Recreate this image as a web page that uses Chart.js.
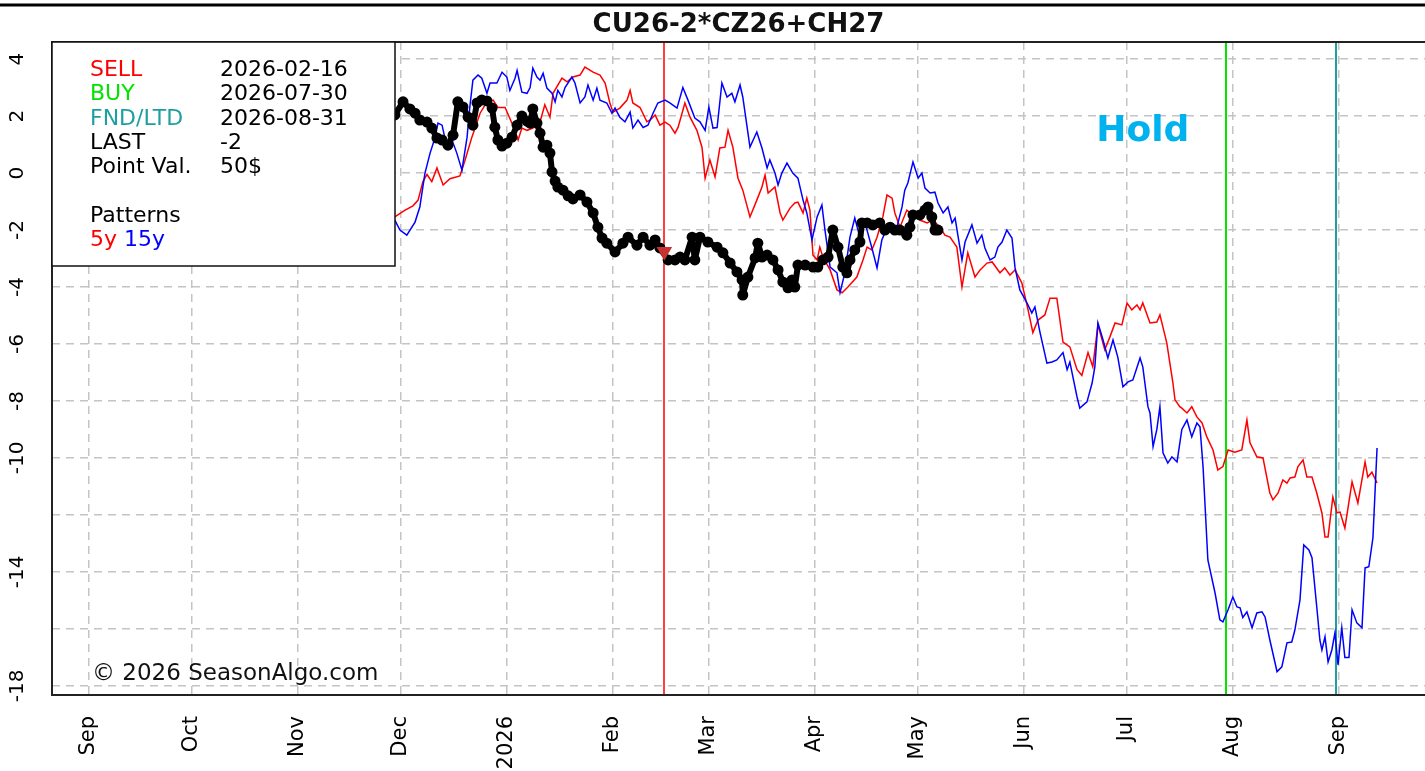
<!DOCTYPE html>
<html>
<head>
<meta charset="utf-8">
<script src="https://cdn.jsdelivr.net/npm/chart.js@4.4.1/dist/chart.umd.min.js"></script>
<style>
  html, body { margin: 0; padding: 0; background: #fff; overflow: hidden; }
  #wrap { width: 1425px; height: 771px; }
</style>
</head>
<body>
<div id="wrap"><canvas id="seasonChart" width="1425" height="771"></canvas></div>
<script>
// days counted from 2025-09-01
const title = 'CU26-2*CZ26+CH27';

const monthTickDates = ['2025-09-01', '2025-10-01', '2025-11-01', '2025-12-01', '2026-01-01', '2026-02-01',
  '2026-03-01', '2026-04-01', '2026-05-01', '2026-06-01', '2026-07-01', '2026-08-01', '2026-09-01'];
const monthTickLabels = ['Sep', 'Oct', 'Nov', 'Dec', '2026', 'Feb', 'Mar', 'Apr', 'May', 'Jun', 'Jul', 'Aug', 'Sep'];

const yGridVals = [4, 2, 0, -2, -4, -6, -8, -10, -12, -14, -16, -18];
const yLabelVals = [4, 2, 0, -2, -4, -6, -8, -10, -14, -18];

const signalNames = ['SELL', 'BUY', 'FND/LTD'];
const signalDates = ['2026-02-16', '2026-07-30', '2026-08-31'];
const signalColors = ['#ff0000', '#00e400', '#1f9f9f'];
const lastValue = -2;
const pointValue = '50$';

// 5y pattern (red)
const redDays = [89.3, 92.3, 94.6, 96.1, 97.5, 98.7, 100.1, 101.6, 103.4, 105.4,
  108.3, 109.8, 111.8, 114.2, 116.2, 118.0, 119.4, 121.5, 123.5, 125.3,
  126.4, 127.9, 129.6, 131.7, 133.1, 134.6, 135.5, 138.1, 139.6, 141.3,
  143.4, 144.8, 147.2, 149.2, 150.7, 152.1, 153.0, 155.0, 157.1, 158.0,
  158.8, 160.9, 162.9, 163.8, 165.3, 166.7, 168.2, 169.6, 171.1, 172.0,
  174.0, 175.5, 177.5, 179.0, 179.9, 181.3, 182.8, 184.2, 185.7, 186.6,
  188.0, 189.5, 190.9, 193.0, 195.0, 196.5, 197.4, 198.3, 200.3, 201.8,
  202.6, 204.7, 206.1, 207.0, 208.5, 209.6, 210.5, 211.4, 212.6, 213.4,
  214.3, 216.4, 218.4, 219.9, 221.6, 224.2, 226.0, 227.2, 228.6, 230.1,
  231.8, 233.0, 234.5, 235.3, 236.8, 238.8, 240.6, 242.6, 244.7, 246.4,
  248.5, 249.9, 251.4, 253.4, 254.9, 256.6, 258.7, 260.2, 262.2, 263.7,
  266.0, 267.4, 268.9, 270.4, 272.4, 274.2, 275.6, 277.1, 279.1, 280.6,
  282.6, 284.4, 286.4, 288.5, 289.9, 291.7, 293.1, 294.6, 296.6, 298.1,
  299.6, 301.6, 303.1, 304.5, 306.0, 306.9, 307.7, 309.8, 311.8, 312.7,
  314.7, 316.5, 317.1, 318.5, 319.1, 320.6, 322.0, 323.5, 325.0, 326.4,
  328.2, 329.6, 331.1, 332.6, 334.6, 336.6, 338.1, 339.0, 341.0, 342.8,
  344.8, 345.7, 347.2, 348.6, 349.8, 350.7, 352.1, 353.0, 354.5, 355.6,
  357.1, 358.5, 360.0, 360.9, 361.8, 363.2, 364.4, 365.3, 366.7, 368.8,
  370.5, 372.6, 373.4, 374.6, 376.1];
const redVals = [-1.54, -1.3, -1.15, -0.95, -0.3, -0.05, -0.3, 0.18, -0.42, -0.2,
  -0.1, 0.45, 1.26, 2.1, 2.5, 2.56, 2.3, 2.3, 1.75, 1.16,
  1.58, 1.5, 1.58, 1.8, 2.4, 1.96, 2.8, 3.33, 3.2, 3.37,
  3.44, 3.72, 3.54, 3.44, 3.16, 2.46, 2.14, 2.28, 2.56, 2.9,
  2.46, 2.3, 1.8, 1.86, 2.04, 1.68, 1.79, 1.68, 1.4, 1.6,
  2.46, 1.96, 1.5, 0.9, -0.18, 0.46, -0.14, 0.88, 0.91, 1.5,
  0.91, -0.18, -0.6, -1.54, -0.95, -0.49, -0.07, -0.7, -0.49, -1.4,
  -1.65, -1.23, -1.05, -1.02, -1.4, -0.88, -1.3, -2.88, -3.05, -2.6,
  -2.95, -3.4, -4.1, -4.2, -4.0, -3.65, -3.05, -2.6, -2.7, -2.25,
  -1.54, -0.77, -0.88, -1.4, -1.9, -1.3, -1.47, -1.65, -1.75, -1.65,
  -1.9, -2.18, -2.25, -2.6, -4.0, -2.8, -3.65, -3.4, -3.16, -3.12,
  -3.5, -3.33, -3.58, -3.4, -3.86, -4.8, -5.6, -5.16, -4.98, -4.39,
  -4.39, -5.93, -6.1, -6.9, -7.1, -6.3, -6.8, -5.33, -6.2, -5.75,
  -5.26, -5.33, -4.56, -4.8, -4.63, -4.8, -4.56, -5.26, -5.23, -4.98,
  -5.96, -7.37, -7.96, -8.2, -8.25, -8.42, -8.2, -8.56, -8.77, -9.26,
  -9.72, -10.42, -10.3, -9.72, -9.8, -9.72, -8.67, -9.47, -9.96, -10.0,
  -11.23, -11.47, -11.23, -10.77, -10.88, -10.7, -10.67, -10.3, -10.07, -10.67,
  -10.67, -11.23, -11.93, -12.77, -12.77, -11.37, -11.93, -11.9, -12.46, -10.84,
  -11.58, -10.14, -10.67, -10.5, -10.88];

// 15y pattern (blue)
const blueDays = [89.3, 90.8, 92.8, 95.2, 96.6, 98.1, 99.6, 101.0, 101.9, 103.1,
  104.5, 106.0, 107.4, 108.9, 110.4, 111.2, 112.1, 113.6, 114.7, 116.2,
  117.1, 119.1, 120.6, 122.0, 122.9, 124.4, 125.0, 126.4, 127.9, 128.8,
  129.6, 130.8, 131.7, 132.6, 133.7, 135.2, 136.1, 136.9, 138.1, 139.0,
  141.0, 141.9, 143.4, 144.8, 145.7, 147.2, 148.3, 149.2, 151.2, 152.7,
  153.6, 155.0, 156.5, 158.0, 158.8, 160.3, 161.8, 163.2, 164.7, 166.1,
  168.2, 169.6, 171.7, 173.4, 174.9, 176.9, 178.4, 179.9, 181.0, 182.2,
  183.4, 184.8, 186.3, 187.7, 188.6, 190.1, 190.9, 193.0, 195.0, 196.5,
  198.0, 198.8, 200.3, 201.2, 202.3, 203.8, 205.5, 207.0, 208.5, 209.6,
  211.1, 212.6, 214.0, 214.9, 216.4, 218.4, 219.3, 220.7, 222.2, 223.6,
  225.1, 226.6, 228.6, 230.1, 231.5, 232.4, 233.9, 235.9, 237.4, 238.2,
  239.1, 240.6, 242.1, 243.2, 244.1, 245.6, 247.0, 247.9, 249.4, 250.8,
  252.0, 252.9, 253.7, 254.9, 255.8, 257.8, 259.3, 260.7, 261.6, 263.1,
  264.5, 265.4, 266.6, 268.0, 269.5, 270.4, 271.8, 273.9, 275.3, 276.2,
  277.7, 279.7, 281.2, 282.6, 284.4, 285.6, 286.4, 288.5, 289.3, 291.4,
  292.9, 293.7, 294.6, 296.1, 297.5, 299.0, 300.4, 301.9, 303.4, 304.8,
  306.9, 307.7, 309.2, 309.8, 310.7, 311.8, 312.7, 313.6, 315.0, 316.2,
  317.7, 319.1, 320.6, 322.0, 323.5, 324.4, 325.3, 326.7, 328.8, 330.2,
  331.1, 332.6, 334.0, 335.2, 336.1, 336.9, 338.1, 339.6, 341.0, 342.5,
  343.4, 344.8, 346.9, 348.3, 349.8, 351.2, 352.1, 353.6, 354.7, 356.2,
  357.1, 358.5, 359.4, 360.0, 360.9, 361.8, 362.9, 363.8, 364.7, 365.8,
  366.7, 367.9, 368.8, 370.2, 371.7, 372.6, 373.7, 374.9, 376.1];
const blueVals = [-1.65, -2.0, -2.18, -1.72, -1.19, 0, 0.7, 1.23, 1.75, 1.68,
  0.91, 1.16, 0.7, 0.1, 1.26, 2.32, 3.26, 3.44, 3.33, 2.8,
  3.16, 3.16, 3.54, 3.37, 2.9, 3.33, 3.6, 2.84, 2.8, 3.0,
  3.68, 3.37, 3.26, 3.5, 2.98, 2.8, 2.5, 2.9, 2.67, 3.0,
  3.37, 3.16, 2.46, 2.67, 3.09, 2.56, 2.98, 2.56, 2.46, 2.1,
  2.28, 1.96, 1.8, 2.14, 1.58, 1.86, 1.6, 1.68, 2.1, 2.46,
  2.56, 2.46, 2.28, 3.0, 2.56, 1.93, 1.8, 1.5, 2.32, 1.58,
  1.6, 3.16, 2.67, 2.8, 2.5, 3.09, 2.67, 0.91, 1.44, 0.88,
  0.18, 0.46, 0, -0.42, 0, 0.35, 0, -0.18, -0.95, -1.4,
  -2.35, -1.54, -1.12, -2.0, -3.3, -3.5, -4.2, -3.5, -2.25, -1.58,
  -2.25, -1.75, -2.63, -3.33, -2.35, -2.1, -2.0, -1.9, -1.19, -0.6,
  -0.35, 0.39, -0.18, 0, -0.53, -0.7, -0.67, -1.05, -1.4, -1.19,
  -1.75, -1.58, -2.18, -3.05, -2.42, -1.82, -2.46, -2.18, -2.63, -3.05,
  -2.95, -2.6, -2.42, -2.0, -2.28, -3.33, -4.1, -4.56, -4.91, -4.7,
  -5.6, -6.67, -6.63, -6.56, -6.3, -6.9, -6.63, -7.86, -8.25, -8.03,
  -7.37, -6.8, -5.26, -5.86, -6.49, -5.86, -6.46, -7.5, -7.33, -7.26,
  -6.49, -6.8, -8.2, -8.42, -9.6, -9.0, -8.2, -9.82, -10.18, -9.96,
  -10.14, -9.0, -8.67, -9.26, -8.77, -8.91, -10.32, -13.58, -14.74, -15.68,
  -15.75, -15.33, -14.88, -15.23, -15.26, -15.6, -15.4, -15.96, -15.44, -15.4,
  -15.58, -16.39, -17.5, -17.33, -16.49, -16.46, -16.04, -14.98, -13.05, -13.23,
  -13.5, -15.23, -16.39, -16.74, -16.28, -17.16, -16.74, -16.14, -17.26, -15.96,
  -17.0, -17.0, -15.33, -15.79, -15.96, -13.86, -13.82, -12.8, -9.65];

// current spread (black)
const lastDays = [89.3, 91.7, 93.7, 95.2, 96.6, 98.7, 100.1, 101.6, 103.1, 104.8,
  106.3, 107.7, 109.2, 110.7, 112.1, 113.3, 114.7, 116.2, 117.7, 118.5,
  119.4, 120.6, 122.0, 123.5, 125.0, 126.4, 127.9, 128.8, 129.6, 130.8,
  131.7, 132.6, 133.7, 134.6, 135.2, 136.1, 136.9, 138.4, 139.9, 141.3,
  143.4, 145.4, 147.2, 148.6, 149.8, 151.2, 153.6, 155.9, 157.4, 160.0,
  161.8, 163.8, 165.3, 166.7, 169.1, 171.1, 172.6, 174.0, 176.1, 176.9,
  178.4, 180.7, 183.4, 185.1, 187.2, 189.2, 190.7, 190.9, 192.4, 194.5,
  195.3, 196.5, 198.0, 199.7, 201.2, 202.6, 204.1, 205.3, 206.1, 207.0,
  209.1, 211.4, 212.8, 214.3, 215.8, 217.2, 218.7, 220.1, 221.3, 222.2,
  223.6, 225.1, 225.7, 227.2, 228.9, 230.9, 232.4, 233.9, 235.3, 236.8,
  238.8, 239.7, 240.6, 242.6, 244.1, 245.0, 246.1, 247.0, 247.9];
const lastVals = [2.04, 2.5, 2.25, 2.1, 1.86, 1.79, 1.58, 1.23, 1.16, 0.98,
  1.33, 2.5, 2.32, 1.96, 1.68, 2.46, 2.56, 2.53, 2.28, 1.61,
  1.16, 0.95, 1.05, 1.26, 1.68, 2.0, 1.82, 1.75, 2.25, 1.75,
  1.4, 0.91, 0.98, 0.7, 0.04, -0.28, -0.49, -0.6, -0.8, -0.91,
  -0.77, -1.02, -1.4, -1.9, -2.28, -2.46, -2.77, -2.46, -2.25, -2.53,
  -2.25, -2.53, -2.35, -2.63, -3.05, -3.05, -2.95, -3.05, -2.25, -3.05,
  -2.25, -2.42, -2.6, -2.8, -3.16, -3.47, -3.75, -4.28, -3.65, -2.98,
  -2.46, -2.95, -2.88, -3.05, -3.4, -3.82, -4.03, -3.75, -4.0, -3.23,
  -3.23, -3.3, -3.3, -3.05, -2.95, -2.0, -2.6, -3.3, -3.5, -3.05,
  -2.7, -2.42, -1.75, -1.75, -1.82, -1.75, -2.0, -1.9, -2.0, -2.0,
  -2.18, -1.9, -1.47, -1.47, -1.3, -1.19, -1.54, -2.0, -2.0];
const sellMarkVal = -2.75;

const FONT = 'DejaVu Sans';
const baseDay = Date.UTC(2025, 8, 1);
function dayOf(s) {
  const [y, m, d] = s.split('-').map(Number);
  return (Date.UTC(y, m - 1, d) - baseDay) / 86400000;
}
function pts(xs, ys) {
  const n = Math.min(xs.length, ys.length);
  const out = [];
  for (let i = 0; i < n; i++) out.push({ x: xs[i], y: ys[i] });
  return out;
}
const monthTickDays = monthTickDates.map(dayOf);

const decor = {
  id: 'decor',
  beforeDatasetsDraw(chart) {
    const { ctx, chartArea: a, scales: { x } } = chart;
    signalDates.forEach((d, i) => {
      const px = Math.round(x.getPixelForValue(dayOf(d)));
      ctx.save();
      ctx.strokeStyle = signalColors[i];
      ctx.lineWidth = i === 0 ? 1.5 : 2;
      ctx.beginPath();
      ctx.moveTo(px, a.top);
      ctx.lineTo(px, a.bottom);
      ctx.stroke();
      ctx.restore();
    });
  },
  afterDraw(chart) {
    const { ctx, chartArea: a, scales: { x, y } } = chart;
    ctx.save();

    // plot frame
    ctx.strokeStyle = '#222';
    ctx.lineWidth = 2;
    ctx.beginPath();
    ctx.moveTo(chart.width, a.top);
    ctx.lineTo(a.left, a.top);
    ctx.lineTo(a.left, a.bottom);
    ctx.lineTo(chart.width, a.bottom);
    ctx.stroke();

    // rule at the very top
    ctx.strokeStyle = '#000';
    ctx.lineWidth = 3;
    ctx.beginPath();
    ctx.moveTo(0, 5);
    ctx.lineTo(chart.width, 5);
    ctx.stroke();

    // title
    ctx.fillStyle = '#111';
    ctx.font = 'bold 26px "' + FONT + '"';
    ctx.textAlign = 'center';
    ctx.textBaseline = 'alphabetic';
    ctx.fillText(title, (a.left + a.right) / 2, 32);

    // rotated y labels
    ctx.font = '20px "' + FONT + '"';
    ctx.fillStyle = '#000';
    yLabelVals.forEach(v => {
      const py = y.getPixelForValue(v);
      ctx.save();
      ctx.translate(18, py);
      ctx.rotate(-Math.PI / 2);
      ctx.textAlign = 'center';
      ctx.textBaseline = 'middle';
      ctx.fillText(String(v), 0, 0);
      ctx.restore();
    });

    // legend box
    const bx = a.left, by = a.top, bw = 343, bh = 224;
    ctx.fillStyle = '#fff';
    ctx.fillRect(bx, by, bw, bh);
    ctx.strokeStyle = '#111';
    ctx.lineWidth = 1.5;
    ctx.strokeRect(bx, by, bw, bh);
    ctx.font = '22px "' + FONT + '"';
    ctx.textAlign = 'left';
    ctx.textBaseline = 'alphabetic';
    const c1 = bx + 38, c2 = bx + 168, lh = 24.3, b0 = by + 34;
    const rows = [
      [signalNames[0], signalColors[0], signalDates[0]],
      [signalNames[1], signalColors[1], signalDates[1]],
      [signalNames[2], signalColors[2], signalDates[2]],
      ['LAST', '#000', String(lastValue)],
      ['Point Val.', '#000', pointValue]
    ];
    rows.forEach((r, i) => {
      ctx.fillStyle = r[1];
      ctx.fillText(r[0], c1, b0 + i * lh);
      ctx.fillStyle = '#000';
      ctx.fillText(r[2], c2, b0 + i * lh);
    });
    ctx.fillStyle = '#000';
    ctx.fillText('Patterns', c1, b0 + 6 * lh);
    ctx.fillStyle = '#ff0000';
    ctx.fillText('5y', c1, b0 + 7 * lh);
    const w5 = ctx.measureText('5y ').width;
    ctx.fillStyle = '#0000ff';
    ctx.fillText('15y', c1 + w5, b0 + 7 * lh);

    // Hold label
    ctx.font = 'bold 36px "' + FONT + '"';
    ctx.fillStyle = '#00b2ee';
    ctx.textAlign = 'center';
    ctx.textBaseline = 'middle';
    ctx.fillText('Hold', x.getPixelForValue(307.7), y.getPixelForValue(1.44));

    // copyright
    ctx.font = '23px "' + FONT + '"';
    ctx.fillStyle = '#111';
    ctx.textAlign = 'left';
    ctx.textBaseline = 'alphabetic';
    ctx.fillText('\u00a9 2026 SeasonAlgo.com', a.left + 40, 680);

    ctx.restore();
  }
};

new Chart(document.getElementById('seasonChart').getContext('2d'), {
  type: 'line',
  data: {
    datasets: [
      {
        label: 'SELL',
        data: [{ x: dayOf(signalDates[0]), y: sellMarkVal }],
        showLine: false,
        pointStyle: 'triangle',
        rotation: 180,
        pointRadius: 9,
        pointBackgroundColor: '#c83232',
        pointBorderColor: '#c83232',
        pointBorderWidth: 0
      },
      {
        label: 'LAST',
        data: pts(lastDays, lastVals),
        borderColor: '#000',
        borderWidth: 6,
        borderJoinStyle: 'round',
        borderCapStyle: 'round',
        pointRadius: 5.5,
        pointBackgroundColor: '#000',
        pointBorderColor: '#000',
        pointBorderWidth: 0,
        tension: 0
      },
      {
        label: '15y',
        data: pts(blueDays, blueVals),
        borderColor: '#0000ff',
        borderWidth: 1.5,
        pointRadius: 0,
        tension: 0
      },
      {
        label: '5y',
        data: pts(redDays, redVals),
        borderColor: '#ff0000',
        borderWidth: 1.5,
        pointRadius: 0,
        tension: 0
      }
    ]
  },
  options: {
    responsive: false,
    devicePixelRatio: 1,
    animation: false,
    layout: { autoPadding: false, padding: { top: 42, right: 0, bottom: 0, left: 0 } },
    plugins: {
      legend: { display: false },
      tooltip: { enabled: false },
      title: { display: false }
    },
    scales: {
      x: {
        type: 'linear',
        min: -10.8,
        max: 390.1,
        afterBuildTicks: s => { s.ticks = monthTickDays.map(v => ({ value: v })); },
        afterFit: s => { s.height = 76; s.paddingLeft = 0; s.paddingRight = 0; },
        ticks: {
          autoSkip: false,
          minRotation: 90,
          maxRotation: 90,
          padding: 21,
          color: '#000',
          font: { family: FONT, size: 21 },
          callback: (v, i) => monthTickLabels[i]
        },
        grid: { color: '#c4c4c4', lineWidth: 1.5, drawTicks: false },
        border: { display: false, dash: [8, 6] }
      },
      y: {
        type: 'linear',
        min: -18.32,
        max: 4.6,
        afterBuildTicks: s => { s.ticks = yGridVals.map(v => ({ value: v })); },
        afterFit: s => { s.width = 52; s.paddingTop = 0; s.paddingBottom = 0; },
        ticks: { display: false },
        grid: { color: '#c4c4c4', lineWidth: 1.5, drawTicks: false },
        border: { display: false, dash: [8, 6] }
      }
    }
  },
  plugins: [decor]
});
</script>
</body>
</html>
